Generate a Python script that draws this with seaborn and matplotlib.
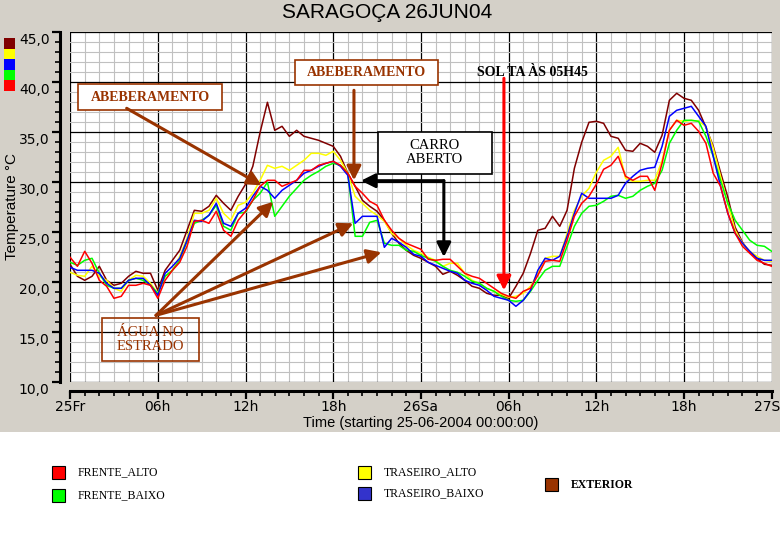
import numpy as np
import pandas as pd
import matplotlib
matplotlib.use("Agg")
import matplotlib.pyplot as plt
import matplotlib.transforms as mtransforms
from matplotlib.patches import Rectangle
from matplotlib.ticker import MultipleLocator
import seaborn as sns

# hours since 25-06-2004 00:00, one reading every half hour
hours = np.arange(0, 48.5, 0.5)

exterior = [
    21.8, 20.6, 20.2, 20.6, 21.6, 20.2, 19.7, 19.9, 20.6, 21.1,
    20.9, 20.9, 19.2, 21.2, 22.2, 23.2, 25.2, 27.2, 27.1, 27.6,
    28.7, 27.9, 27.2, 28.6, 29.8, 31.6, 35.0, 38.0, 35.2, 35.6,
    34.6, 35.2, 34.6, 34.4, 34.2, 33.9, 33.6, 32.6, 30.9, 29.6,
    28.2, 27.6, 27.1, 26.2, 24.9, 23.9, 23.2, 22.7, 22.4, 22.0,
    21.6, 20.8, 21.1, 20.7, 20.2, 19.6, 19.4, 18.9, 18.7, 18.7,
    18.4, 19.6, 20.9, 22.9, 25.2, 25.4, 26.6, 25.6, 27.2, 31.4,
    34.0, 36.0, 36.1, 35.9, 34.6, 34.4, 33.2, 33.1, 33.9, 33.6,
    33.0, 34.7, 38.2, 38.9, 38.4, 38.2, 37.2, 35.5, 33.6, 31.0,
    28.5, 25.5, 24.0, 23.0, 22.4, 21.8, 21.7,
]
traseiro_alto = [
    21.0, 20.7, 20.6, 21.6, 20.6, 20.2, 19.4, 19.1, 20.2, 20.7,
    20.6, 19.9, 18.9, 20.6, 21.2, 22.6, 24.4, 26.9, 26.9, 27.2,
    28.4, 26.9, 26.2, 27.7, 28.0, 28.9, 30.2, 31.7, 31.4, 31.6,
    31.2, 31.7, 32.2, 32.9, 32.9, 32.7, 33.1, 32.2, 30.9, 28.6,
    27.9, 27.2, 26.7, 26.1, 24.9, 24.4, 23.7, 23.2, 22.9, 22.5,
    22.2, 21.6, 21.9, 21.9, 20.9, 20.2, 19.9, 19.4, 19.1, 18.8,
    18.5, 18.6, 18.9, 19.6, 20.9, 22.4, 22.6, 22.6, 24.9, 27.2,
    28.6, 29.4, 31.0, 32.2, 32.6, 33.5, 30.4, 30.1, 30.1, 30.2,
    30.2, 32.2, 35.2, 36.2, 36.1, 36.2, 36.1, 35.6, 33.4, 30.6,
    27.8, 25.2, 23.9, 23.1, 22.6, 22.2, 22.1,
]
frente_alto = [
    22.5, 21.6, 23.1, 21.9, 20.2, 19.6, 18.4, 18.6, 19.7, 19.7,
    19.9, 19.7, 18.4, 20.2, 21.2, 22.0, 23.6, 26.1, 26.2, 25.9,
    27.1, 25.2, 24.6, 26.2, 27.1, 28.2, 29.6, 30.2, 30.2, 29.6,
    29.9, 30.2, 31.2, 31.2, 31.7, 31.9, 32.1, 31.7, 30.9, 29.6,
    28.9, 28.1, 27.7, 26.2, 25.2, 24.4, 23.9, 23.6, 23.3, 22.3,
    22.2, 22.3, 22.3, 21.6, 20.9, 20.6, 20.4, 19.9, 19.4, 18.9,
    18.6, 18.4, 19.1, 19.4, 20.7, 22.1, 22.2, 22.1, 24.2, 26.6,
    27.9, 28.6, 29.8, 31.3, 31.7, 32.6, 30.6, 30.2, 30.6, 30.6,
    29.2, 31.9, 35.2, 36.2, 35.7, 35.9, 35.1, 33.9, 30.9, 29.6,
    26.9, 24.9, 23.6, 22.9, 22.2, 21.9, 21.6,
]
traseiro_baixo = [
    21.5, 21.2, 21.2, 21.2, 20.9, 19.9, 19.4, 19.4, 20.2, 20.4,
    20.4, 19.7, 18.7, 20.9, 21.6, 22.4, 24.2, 26.2, 26.1, 26.7,
    27.9, 25.9, 25.6, 26.9, 27.4, 28.6, 29.6, 29.2, 28.4, 29.2,
    29.7, 30.2, 30.9, 31.2, 31.6, 31.9, 32.1, 31.6, 30.7, 25.9,
    26.6, 26.6, 26.6, 23.5, 24.4, 24.0, 23.5, 22.8, 22.6, 22.0,
    21.7, 21.4, 21.1, 20.9, 20.2, 19.9, 19.7, 19.2, 18.6, 18.4,
    18.2, 17.6, 18.2, 19.2, 21.2, 22.4, 22.2, 22.6, 24.6, 26.9,
    28.9, 28.4, 28.4, 28.4, 28.4, 28.7, 29.9, 30.6, 31.2, 31.4,
    31.5, 33.6, 36.6, 37.2, 37.4, 37.6, 36.6, 35.6, 32.6, 29.6,
    26.9, 24.9, 23.9, 23.1, 22.4, 22.2, 22.2,
]
frente_baixo = [
    22.0, 21.7, 22.2, 22.4, 20.9, 19.7, 19.4, 19.4, 20.2, 20.4,
    20.2, 19.7, 18.9, 20.6, 21.2, 22.2, 24.1, 25.9, 26.2, 26.7,
    27.7, 25.6, 25.2, 26.9, 27.0, 28.2, 28.9, 30.0, 26.6, 27.6,
    28.6, 29.4, 30.2, 30.7, 31.1, 31.6, 31.9, 31.7, 30.9, 24.6,
    24.6, 26.0, 26.2, 23.9, 23.7, 23.7, 23.2, 23.1, 22.7, 22.4,
    22.1, 21.6, 21.2, 21.0, 20.6, 20.1, 19.9, 19.4, 19.1, 18.6,
    18.2, 18.1, 18.2, 19.1, 20.2, 21.2, 21.6, 21.6, 23.6, 25.6,
    26.9, 27.6, 27.7, 28.1, 28.6, 28.7, 28.4, 28.6, 29.2, 29.6,
    29.9, 31.2, 33.9, 35.2, 36.2, 36.2, 36.1, 34.6, 32.6, 30.2,
    27.9, 26.2, 25.2, 24.2, 23.7, 23.6, 23.1,
]

x_ticks = [0, 6, 12, 18, 24, 30, 36, 42, 48]
x_tick_labels = ["25Fr", "06h", "12h", "18h", "26Sa", "06h", "12h", "18h", "27Sa"]
y_ticks = [10, 15, 20, 25, 30, 35, 40, 45]
y_tick_labels = ["10,0", "15,0", "20,0", "25,0", "30,0", "35,0", "40,0", "45,0"]

line_colors = {
    "EXTERIOR": "#800000",
    "TRASEIRO_ALTO": "#FFFF00",
    "FRENTE_BAIXO": "#00FF00",
    "TRASEIRO_BAIXO": "#0000FF",
    "FRENTE_ALTO": "#FF0000",
}

df = pd.DataFrame({
    "hour": hours,
    "EXTERIOR": exterior,
    "TRASEIRO_ALTO": traseiro_alto,
    "FRENTE_BAIXO": frente_baixo,
    "TRASEIRO_BAIXO": traseiro_baixo,
    "FRENTE_ALTO": frente_alto,
})
long = df.melt(id_vars="hour", var_name="sensor", value_name="temp")

SANS = ["Liberation Sans", "DejaVu Sans"]
SERIF = ["Liberation Serif", "DejaVu Serif"]
BROWN = "#993300"
W, H = 780, 540

fig = plt.figure(figsize=(7.8, 5.4), dpi=100, facecolor="#D4D0C8")
ax = fig.add_axes([70.1 / W, 1 - 382.3 / H, (771.7 - 70.1) / W, (382.3 - 32.3) / H])

# white strip under the chart with the legend
fig.add_artist(Rectangle((0, 0), 1, (H - 432) / H, transform=fig.transFigure,
                         facecolor="white", edgecolor="none", zorder=-5))

sns.lineplot(data=long, x="hour", y="temp", hue="sensor",
             hue_order=list(line_colors), palette=line_colors,
             linewidth=1.1, legend=False, ax=ax, zorder=3)

ax.set_xlim(0, 48)
ax.set_ylim(10, 45)
ax.set_facecolor("white")
ax.set_xticks(x_ticks)
ax.set_xticklabels(x_tick_labels, family=SANS, fontsize=7.5)
ax.set_yticks(y_ticks)
ax.set_yticklabels(y_tick_labels, family=SANS, fontsize=8)
ax.xaxis.set_minor_locator(MultipleLocator(1))
ax.yaxis.set_minor_locator(MultipleLocator(1))
ax.grid(which="minor", color="#C0C0C0", linewidth=0.8)
ax.grid(which="major", color="black", linewidth=0.9)
ax.set_axisbelow(True)

for side in ["top", "right"]:
    ax.spines[side].set_visible(False)
ax.spines["left"].set_position(("outward", 7.2))
ax.spines["bottom"].set_position(("outward", 6.5))
for side in ["left", "bottom"]:
    ax.spines[side].set_linewidth(2.2)
ax.tick_params(which="major", length=6, width=1.6, direction="out", pad=1.5)
ax.tick_params(axis="x", which="major", pad=0.5)
ax.tick_params(which="minor", length=3.6, width=1.2, direction="out")

# y labels sit a little below their ticks in the original
shift = mtransforms.ScaledTranslation(0, -0.065, fig.dpi_scale_trans)
for lab in ax.get_yticklabels():
    lab.set_transform(lab.get_transform() + shift)

ax.set_xlabel("")
ax.set_ylabel("")
fig.text(387 / W, 1 - 12 / H, "SARAGOÇA 26JUN04",
         ha="center", va="center", fontsize=15, family=SANS)
fig.text(12 / W, 1 - 207 / H, "Temperature °C", rotation=90,
         ha="center", va="center", fontsize=11, family=SANS)
fig.text(421 / W, 1 - 423 / H, "Time (starting 25-06-2004 00:00:00)",
         ha="center", va="center", fontsize=10.5, family=SANS)

# colour key squares in the top-left corner
for i, col in enumerate(["#800000", "#FFFF00", "#0000FF", "#00FF00", "#FF0000"]):
    y0 = 38.3 + i * 10.5
    fig.add_artist(Rectangle((4 / W, 1 - (y0 + 10.5) / H), 11 / W, 10.5 / H,
                             transform=fig.transFigure, facecolor=col,
                             edgecolor="none"))

# annotations
def box(x0, x1, y0, y1, edge, fill):
    ax.add_patch(Rectangle((x0, y0), x1 - x0, y1 - y0, facecolor=fill,
                           edgecolor=edge, linewidth=1.2, zorder=5))

head = "-|>,head_length=0.5,head_width=0.25"

def arrow(xy, xytext, color):
    ax.annotate("", xy=xy, xytext=xytext, zorder=6,
                arrowprops=dict(arrowstyle=head, color=color, lw=2.2,
                                mutation_scale=17, shrinkA=0, shrinkB=0))

box(0.54, 10.39, 37.23, 39.83, BROWN, "white")
ax.text(5.47, 38.5, "ABEBERAMENTO", ha="center", va="center", color=BROWN,
        fontsize=10, fontweight="bold", family=SERIF, zorder=7)
arrow((13.1, 29.7), (3.87, 37.4), BROWN)

box(15.38, 25.16, 39.73, 42.23, BROWN, "white")
ax.text(20.27, 41.0, "ABEBERAMENTO", ha="center", va="center", color=BROWN,
        fontsize=10, fontweight="bold", family=SERIF, zorder=7)
arrow((19.42, 30.2), (19.42, 39.2), BROWN)

box(21.06, 28.86, 30.83, 35.03, "black", "white")
ax.text(24.96, 32.95, "CARRO\nABERTO", ha="center", va="center", color="black",
        fontsize=10.5, family=SERIF, linespacing=1.1, zorder=7)
arrow((19.9, 30.16), (25.57, 30.16), "black")
arrow((25.57, 22.53), (25.57, 30.16), "black")

ax.text(31.6, 40.93, "SOL TA ÀS 05H45", ha="center", va="center", color="black",
        fontsize=10, fontweight="bold", family=SERIF, zorder=7)
arrow((29.68, 19.2), (29.68, 40.4), "#FF0000")

box(2.18, 8.83, 12.13, 16.43, BROWN, "none")
ax.text(5.5, 14.25, "ÁGUA NO\nESTRADO", ha="center", va="center", color=BROWN,
        fontsize=10.5, family=SERIF, linespacing=1.1, zorder=7)
for tip in [(13.9, 28.06), (19.37, 25.9), (21.3, 23.0)]:
    arrow(tip, (5.88, 16.7), BROWN)

# legend below the chart
legend_items = [
    ("FRENTE_ALTO", "#FF0000", 52, 472.5, "normal"),
    ("FRENTE_BAIXO", "#00FF00", 52, 495.5, "normal"),
    ("TRASEIRO_ALTO", "#FFFF00", 358, 472.5, "normal"),
    ("TRASEIRO_BAIXO", "#3333CC", 358, 493.5, "normal"),
    ("EXTERIOR", BROWN, 545, 484.5, "bold"),
]
for label, col, x0, yc, weight in legend_items:
    fig.add_artist(Rectangle((x0 / W, 1 - (yc + 6.5) / H), 13 / W, 13 / H,
                             transform=fig.transFigure, facecolor=col,
                             edgecolor="black", linewidth=0.8))
    fig.text((x0 + 26) / W, 1 - yc / H, label, ha="left", va="center",
             fontsize=8.5, family=SERIF, fontweight=weight)

fig.savefig("out.png", dpi=100, facecolor=fig.get_facecolor())
